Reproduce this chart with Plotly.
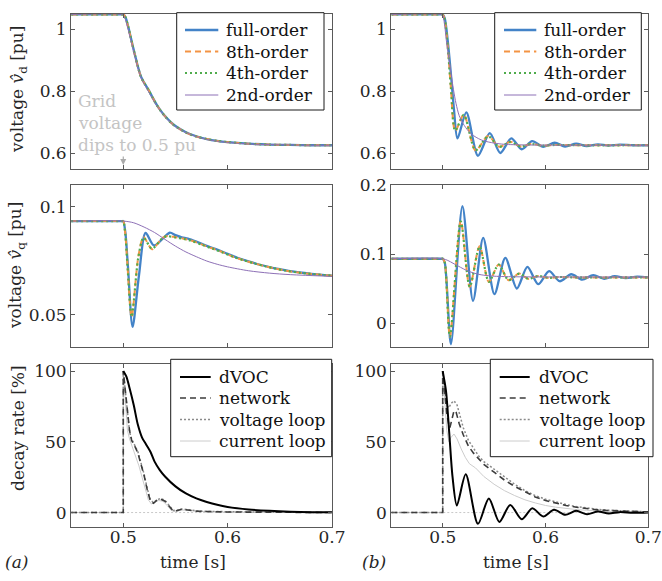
import plotly.graph_objects as go

# ---------------- data ----------------
# Row 1, panel (a): voltage v_d [pu]
t_vd_a = [0.45, 0.499, 0.5, 0.502, 0.505, 0.508, 0.511, 0.514, 0.517, 0.52, 0.524, 0.528, 0.532,
          0.536, 0.54, 0.545, 0.55, 0.56, 0.57, 0.58, 0.59, 0.6, 0.62, 0.64, 0.66, 0.68, 0.7]
full_vd_a = [1.048, 1.048, 1.048, 1.04, 1.005, 0.962, 0.92, 0.88, 0.847, 0.828, 0.806, 0.781, 0.757,
             0.737, 0.72, 0.702, 0.688, 0.668, 0.655, 0.646, 0.64, 0.636, 0.631, 0.628, 0.627, 0.626, 0.626]
o8_vd_a = [1.048, 1.048, 1.048, 1.039, 1.003, 0.96, 0.918, 0.878, 0.846, 0.827, 0.805, 0.78, 0.756,
           0.736, 0.719, 0.701, 0.687, 0.667, 0.654, 0.646, 0.64, 0.636, 0.631, 0.628, 0.627, 0.626, 0.626]
o4_vd_a = [1.048, 1.048, 1.048, 1.039, 1.004, 0.961, 0.919, 0.879, 0.846, 0.827, 0.805, 0.78, 0.756,
           0.736, 0.719, 0.701, 0.687, 0.667, 0.654, 0.646, 0.64, 0.636, 0.631, 0.628, 0.627, 0.626, 0.626]
o2_vd_a = [1.048, 1.048, 1.046, 1.032, 0.995, 0.955, 0.914, 0.876, 0.845, 0.824, 0.8, 0.777, 0.754,
           0.735, 0.718, 0.7, 0.686, 0.667, 0.654, 0.645, 0.639, 0.635, 0.63, 0.628, 0.627, 0.626, 0.626]

# Row 1, panel (b)
t_full_vd_b = [0.45, 0.499, 0.5, 0.502, 0.505, 0.508, 0.511, 0.5144, 0.523, 0.5343, 0.5458, 0.556,
               0.5667, 0.5769, 0.587, 0.5978, 0.609, 0.619, 0.6298, 0.64, 0.651, 0.661, 0.672, 0.685, 0.7]
full_vd_b = [1.048, 1.048, 1.048, 1.035, 0.96, 0.855, 0.74, 0.648, 0.732, 0.592, 0.665, 0.601,
             0.648, 0.613, 0.639, 0.621, 0.634, 0.622, 0.631, 0.623, 0.629, 0.625, 0.628, 0.626, 0.626]
t_red_vd_b = [0.45, 0.499, 0.5, 0.502, 0.505, 0.508, 0.5122, 0.5205, 0.532, 0.5442, 0.555, 0.5657,
              0.576, 0.586, 0.597, 0.61, 0.63, 0.7]
o8_vd_b = [1.048, 1.048, 1.048, 1.03, 0.94, 0.81, 0.672, 0.725, 0.609, 0.656, 0.621, 0.637,
           0.622, 0.63, 0.625, 0.627, 0.626, 0.626]
o4_vd_b = [1.048, 1.048, 1.048, 1.03, 0.94, 0.81, 0.673, 0.724, 0.61, 0.655, 0.621, 0.636,
           0.622, 0.63, 0.625, 0.627, 0.626, 0.626]
t_o2_vd_b = [0.45, 0.499, 0.5, 0.502, 0.5035, 0.506, 0.508, 0.5105, 0.513, 0.516, 0.52, 0.525, 0.53,
             0.535, 0.54, 0.55, 0.56, 0.58, 0.7]
o2_vd_b = [1.048, 1.048, 1.046, 1.01, 0.965, 0.905, 0.86, 0.805, 0.76, 0.722, 0.695, 0.672, 0.657,
           0.647, 0.64, 0.633, 0.629, 0.627, 0.626]

# Row 2, panel (a): voltage v_q [pu]
t_full_vq_a = [0.45, 0.499, 0.5, 0.502, 0.5045, 0.5089, 0.515, 0.5214, 0.5295, 0.5445, 0.55, 0.556,
               0.562, 0.57, 0.58, 0.59, 0.6, 0.61, 0.62, 0.63, 0.64, 0.65, 0.66, 0.68, 0.7]
full_vq_a = [0.0933, 0.0933, 0.0933, 0.088, 0.072, 0.0443, 0.068, 0.0878, 0.082, 0.0879, 0.0868, 0.0858,
             0.0852, 0.0838, 0.0818, 0.0801, 0.0781, 0.0762, 0.0746, 0.0732, 0.072, 0.071, 0.0701, 0.0689, 0.068]
t_red_vq_a = [0.45, 0.499, 0.5, 0.502, 0.504, 0.508, 0.5145, 0.5195, 0.5275, 0.5375, 0.5425, 0.55,
              0.558, 0.565, 0.575, 0.585, 0.595, 0.605, 0.615, 0.625, 0.635, 0.645, 0.655, 0.67, 0.7]
o8_vq_a = [0.0933, 0.0933, 0.0933, 0.087, 0.073, 0.0488, 0.077, 0.0858, 0.0803, 0.0855, 0.0864, 0.0858,
           0.0851, 0.0843, 0.0825, 0.0807, 0.0789, 0.0768, 0.0752, 0.0738, 0.0725, 0.0714, 0.0704, 0.0693, 0.068]
o4_vq_a = [0.0933, 0.0933, 0.0933, 0.087, 0.0728, 0.049, 0.0768, 0.0856, 0.0805, 0.0854, 0.0863, 0.0857,
           0.085, 0.0842, 0.0824, 0.0806, 0.0788, 0.0768, 0.0752, 0.0738, 0.0725, 0.0714, 0.0704, 0.0693, 0.068]
t_o2_vq_a = [0.45, 0.5, 0.51, 0.52, 0.53, 0.54, 0.55, 0.56, 0.57, 0.58, 0.59, 0.6, 0.62, 0.64, 0.66, 0.7]
o2_vq_a = [0.0933, 0.0933, 0.0925, 0.0905, 0.088, 0.0848, 0.0817, 0.079, 0.0768, 0.0748, 0.0733,
           0.0721, 0.0703, 0.0692, 0.0685, 0.0677]

# Row 2, panel (b)
t_full_vq_b = [0.45, 0.499, 0.5, 0.502, 0.508, 0.5192, 0.5295, 0.5394, 0.5503, 0.5609, 0.5721, 0.5824,
               0.5929, 0.6035, 0.6138, 0.625, 0.6356, 0.6465, 0.657, 0.6673, 0.678, 0.689, 0.7]
full_vq_b = [0.0935, 0.0935, 0.0935, 0.088, -0.03, 0.1693, 0.0327, 0.1236, 0.0423, 0.0947, 0.0505, 0.0817,
             0.0567, 0.0755, 0.061, 0.0711, 0.0634, 0.0697, 0.0645, 0.0683, 0.0655, 0.0675, 0.0665]
t_red_vq_b = [0.45, 0.499, 0.5, 0.502, 0.507, 0.5176, 0.5263, 0.5359, 0.5449, 0.5545, 0.5641, 0.5744,
              0.5833, 0.593, 0.603, 0.613, 0.63, 0.7]
o8_vq_b = [0.0935, 0.0935, 0.0935, 0.088, -0.0193, 0.148, 0.0529, 0.1115, 0.06, 0.0851, 0.0625, 0.0721,
           0.0644, 0.0687, 0.0658, 0.0672, 0.0665, 0.0665]
o4_vq_b = [0.0935, 0.0935, 0.0935, 0.088, -0.019, 0.1475, 0.053, 0.111, 0.0602, 0.085, 0.0626, 0.072,
           0.0645, 0.0686, 0.0659, 0.0671, 0.0665, 0.0665]
t_o2_vq_b = [0.45, 0.5, 0.505, 0.51, 0.515, 0.52, 0.525, 0.53, 0.535, 0.54, 0.55, 0.56, 0.58, 0.7]
o2_vq_b = [0.0935, 0.0935, 0.091, 0.087, 0.083, 0.079, 0.0755, 0.073, 0.071, 0.0697, 0.0683, 0.0677,
           0.0673, 0.067]

# Row 3: decay rate [%]
t_dvoc_a = [0.5, 0.503, 0.506, 0.51, 0.514, 0.518, 0.522, 0.526, 0.53, 0.535, 0.54, 0.55, 0.56, 0.57,
            0.58, 0.59, 0.6, 0.62, 0.64, 0.66, 0.68, 0.7]
dvoc_a = [100, 96, 88, 76, 62, 53, 48, 43, 36, 30, 25.5, 18.5, 13.5, 10, 7.5, 5.5, 4, 2.2, 1.2, 0.6, 0.3, 0.15]
t_net_a = [0.45, 0.5, 0.5, 0.502, 0.504, 0.506, 0.508, 0.511, 0.514, 0.517, 0.52, 0.523, 0.526, 0.529,
           0.532, 0.536, 0.54, 0.544, 0.548, 0.552, 0.556, 0.562, 0.57, 0.58, 0.6, 0.65, 0.7]
net_a = [0, 0, 100, 88, 72, 58, 51, 47, 42, 34, 26, 16, 8, 6.5, 8.5, 9.5, 8, 4.5, 1, 1.5, 2.3, 1.8,
         1, 0.7, 0.4, 0.2, 0.05]
volt_a = [0, 0, 100, 86, 70, 57, 52, 48, 43, 35, 27, 17, 9, 7, 9, 10, 8.5, 5, 1.5, 1.8, 2.5, 2,
          1.2, 0.8, 0.5, 0.2, 0.05]
t_cur_a = [0.45, 0.5, 0.5, 0.502, 0.504, 0.506, 0.509, 0.512, 0.515, 0.518, 0.521, 0.524, 0.527, 0.53,
           0.534, 0.538, 0.542, 0.546, 0.55, 0.555, 0.56, 0.57, 0.6, 0.7]
cur_a = [0, 0, 100, 75, 58, 52, 46, 40, 33, 25, 16, 9, 6, 7.5, 8.5, 8, 5, 1.5, 0.5, 1.8, 1.7, 0.9, 0.3, 0.05]

t_dvoc_b = [0.5, 0.5032, 0.5064, 0.5096, 0.5138, 0.5224, 0.5343, 0.5449, 0.5551, 0.5657, 0.5769, 0.5872,
            0.5978, 0.6083, 0.6192, 0.6298, 0.6404, 0.651, 0.6615, 0.672, 0.685, 0.7]
dvoc_b = [100, 86, 56, 25, 5, 27, -8, 10, -6.6, 5.4, -4.7, 3, -2.8, 1.9, -1.6, 1.2, -1.2, 0.7, -0.7,
          0.3, -0.2, 0]
t_net_b = [0.45, 0.5, 0.5, 0.502, 0.504, 0.506, 0.507, 0.509, 0.511, 0.513, 0.516, 0.52, 0.525, 0.53,
           0.535, 0.54, 0.55, 0.56, 0.57, 0.58, 0.59, 0.6, 0.61, 0.62, 0.63, 0.64, 0.65, 0.66, 0.68, 0.7]
net_b = [0, 0, 100, 85, 70, 62, 60, 66, 72, 71, 63, 55, 47, 42, 38, 34, 28.5, 23, 18.5, 14.5, 11, 8.5,
         6.5, 5, 3.8, 2.8, 2, 1.5, 0.8, 0.4]
t_volt_b = [0.45, 0.5, 0.5, 0.502, 0.504, 0.506, 0.508, 0.511, 0.514, 0.517, 0.52, 0.525, 0.53, 0.535,
            0.54, 0.55, 0.56, 0.57, 0.58, 0.59, 0.6, 0.61, 0.62, 0.63, 0.64, 0.65, 0.66, 0.68, 0.7]
volt_b = [0, 0, 100, 88, 76, 74, 77, 79, 76, 68, 60, 51, 45, 40, 36, 30.5, 25, 20, 15.5, 12, 9.5,
          7.3, 5.6, 4.2, 3.1, 2.3, 1.7, 0.9, 0.5]
t_cur_b = [0.45, 0.5, 0.5, 0.502, 0.504, 0.506, 0.508, 0.511, 0.514, 0.518, 0.522, 0.526, 0.529, 0.532,
           0.536, 0.54, 0.55, 0.56, 0.57, 0.58, 0.59, 0.6, 0.61, 0.62, 0.63, 0.64, 0.66, 0.7]
cur_b = [0, 0, 100, 80, 58, 50, 53, 55.5, 52, 45, 39, 34.5, 33, 31.5, 28.5, 25.5, 20, 15.5, 12, 9,
         6.8, 5, 3.8, 2.8, 2.1, 1.6, 0.9, 0.3]

x_ticks = [0.5, 0.6, 0.7]
x_ticktext = ["0.5", "0.6", "0.7"]
vd_ticks = [0.6, 0.8, 1.0]
vd_ticktext = ["0.6", "0.8", "1"]
vq_a_ticks = [0.05, 0.1]
vq_a_ticktext = ["0.05", "0.1"]
vq_b_ticks = [0, 0.1, 0.2]
vq_b_ticktext = ["0", "0.1", "0.2"]
dr_ticks = [0, 50, 100]
dr_ticktext = ["0", "50", "100"]

order_names = ["full-order", "8th-order", "4th-order", "2nd-order"]
decay_names = ["dVOC", "network", "voltage loop", "current loop"]

# ---------------- styling ----------------
W, H = 662, 581
FONT = "DejaVu Serif"
FS = 17
AXC = "#595959"
TXT = "#262626"
BLUE = "#4383c8"
ORANGE = "#f39444"
GREEN = "#4fac4c"
PURPLE = "#8d70b6"

order_styles = [dict(color=BLUE, width=2.3, dash="solid"),
                dict(color=ORANGE, width=2, dash="6px,4px"),
                dict(color=GREEN, width=2.2, dash="2px,3px"),
                dict(color=PURPLE, width=1, dash="solid")]
decay_styles = [dict(color="#000000", width=2, dash="solid"),
                dict(color="#3c3c3c", width=1.6, dash="6px,4px"),
                dict(color="#8a8a8a", width=1.5, dash="2px,2px"),
                dict(color="#cccccc", width=1, dash="solid")]


def px2x(px):
    return px / W


def py2y(py):
    return 1 - py / H


fig = go.Figure()


def add(t, v, style, xa, ya, name, shape="spline"):
    line = dict(color=style["color"], width=style["width"], dash=style["dash"], shape=shape)
    if shape == "spline":
        line["smoothing"] = 0.8
    fig.add_trace(go.Scatter(x=t, y=v, mode="lines", name=name, showlegend=False, line=line,
                             xaxis=xa, yaxis=ya, hoverinfo="skip"))


# row 1
add(t_vd_a, full_vd_a, order_styles[0], "x", "y", order_names[0])
add(t_vd_a, o8_vd_a, order_styles[1], "x", "y", order_names[1])
add(t_vd_a, o4_vd_a, order_styles[2], "x", "y", order_names[2])
add(t_vd_a, o2_vd_a, order_styles[3], "x", "y", order_names[3])
add(t_full_vd_b, full_vd_b, order_styles[0], "x2", "y2", order_names[0])
add(t_red_vd_b, o8_vd_b, order_styles[1], "x2", "y2", order_names[1])
add(t_red_vd_b, o4_vd_b, order_styles[2], "x2", "y2", order_names[2])
add(t_o2_vd_b, o2_vd_b, order_styles[3], "x2", "y2", order_names[3])
# row 2
add(t_full_vq_a, full_vq_a, order_styles[0], "x3", "y3", order_names[0])
add(t_red_vq_a, o8_vq_a, order_styles[1], "x3", "y3", order_names[1])
add(t_red_vq_a, o4_vq_a, order_styles[2], "x3", "y3", order_names[2])
add(t_o2_vq_a, o2_vq_a, order_styles[3], "x3", "y3", order_names[3])
add(t_full_vq_b, full_vq_b, order_styles[0], "x4", "y4", order_names[0])
add(t_red_vq_b, o8_vq_b, order_styles[1], "x4", "y4", order_names[1])
add(t_red_vq_b, o4_vq_b, order_styles[2], "x4", "y4", order_names[2])
add(t_o2_vq_b, o2_vq_b, order_styles[3], "x4", "y4", order_names[3])
# row 3
add(t_cur_a, cur_a, decay_styles[3], "x5", "y5", decay_names[3], "linear")
add(t_net_a, volt_a, decay_styles[2], "x5", "y5", decay_names[2], "linear")
add(t_net_a, net_a, decay_styles[1], "x5", "y5", decay_names[1], "linear")
add(t_dvoc_a, dvoc_a, decay_styles[0], "x5", "y5", decay_names[0])
add(t_cur_b, cur_b, decay_styles[3], "x6", "y6", decay_names[3], "linear")
add(t_volt_b, volt_b, decay_styles[2], "x6", "y6", decay_names[2], "linear")
add(t_net_b, net_b, decay_styles[1], "x6", "y6", decay_names[1], "linear")
add(t_dvoc_b, dvoc_b, decay_styles[0], "x6", "y6", decay_names[0])

LX = [71.1 / W, 332 / W]
RX = [391.3 / W, 648.3 / W]
R1 = [py2y(168.8), py2y(13.8)]
R2 = [py2y(347), py2y(185)]
R3 = [py2y(526.7), py2y(364)]


def xax(domain, anchor, labels):
    return dict(domain=domain, anchor=anchor, range=[0.45, 0.7], tickvals=x_ticks, ticktext=x_ticktext,
                showticklabels=labels, showline=True, mirror="ticks", linecolor=AXC, linewidth=1,
                ticks="inside", ticklen=4, tickcolor=AXC, showgrid=False, zeroline=False,
                ticklabelstandoff=-5, automargin=False, ticklabeloverflow="allow",
                tickfont=dict(family=FONT, size=FS, color=TXT))


def yax(domain, anchor, rng, tv, tt):
    return dict(domain=domain, anchor=anchor, range=rng, tickvals=tv, ticktext=tt,
                showline=True, mirror="ticks", linecolor=AXC, linewidth=1,
                ticks="inside", ticklen=4, tickcolor=AXC, showgrid=False, zeroline=False,
                automargin=False, ticklabeloverflow="allow",
                tickfont=dict(family=FONT, size=FS, color=TXT))


fig.update_layout(
    width=W, height=H, autosize=False,
    margin=dict(l=0, r=0, t=0, b=0, pad=0),
    paper_bgcolor="white", plot_bgcolor="white",
    font=dict(family=FONT, size=FS, color=TXT),
    showlegend=False,
    xaxis=xax(LX, "y", False), yaxis=yax(R1, "x", [0.55, 1.05], vd_ticks, vd_ticktext),
    xaxis2=xax(RX, "y2", False), yaxis2=yax(R1, "x2", [0.55, 1.05], vd_ticks, vd_ticktext),
    xaxis3=xax(LX, "y3", False), yaxis3=yax(R2, "x3", [0.035, 0.11], vq_a_ticks, vq_a_ticktext),
    xaxis4=xax(RX, "y4", False), yaxis4=yax(R2, "x4", [-0.034, 0.2], vq_b_ticks, vq_b_ticktext),
    xaxis5=xax(LX, "y5", True), yaxis5=yax(R3, "x5", [-10, 105], dr_ticks, dr_ticktext),
    xaxis6=xax(RX, "y6", True), yaxis6=yax(R3, "x6", [-10, 105], dr_ticks, dr_ticktext),
)

shapes = []
annots = []

# zero reference lines in decay-rate panels
for xr, yr in (("x5", "y5"), ("x6", "y6")):
    shapes.append(dict(type="line", xref=xr, yref=yr, x0=0.45, x1=0.7, y0=0, y1=0, layer="below",
                       line=dict(color="#c8c8c8", width=1, dash="2px,2px")))


def legend_box(x0, x1, y0, y1, line_x0, line_x1, text_x, ys, names, styles):
    shapes.append(dict(type="rect", xref="paper", yref="paper", x0=px2x(x0), x1=px2x(x1),
                       y0=py2y(y1), y1=py2y(y0), fillcolor="white",
                       line=dict(color="#1a1a1a", width=1)))
    for yy, nm, st in zip(ys, names, styles):
        shapes.append(dict(type="line", xref="paper", yref="paper", x0=px2x(line_x0), x1=px2x(line_x1),
                           y0=py2y(yy), y1=py2y(yy),
                           line=dict(color=st["color"], width=st["width"], dash=st["dash"])))
        annots.append(dict(xref="paper", yref="paper", x=px2x(text_x), y=py2y(yy), text=nm,
                           showarrow=False, xanchor="left", yanchor="middle",
                           font=dict(family=FONT, size=FS, color="#111111")))


legend_box(176.7, 324, 12.7, 110, 185, 218.3, 224, [30, 51.5, 73, 95], order_names, order_styles)
legend_box(494.7, 641.3, 12.7, 110, 504, 536.3, 542, [30, 51.5, 73, 95], order_names, order_styles)
legend_box(170.7, 331.7, 359.3, 456.7, 180, 210.7, 217, [377, 398, 419.5, 441], decay_names, decay_styles)
legend_box(490.3, 653, 359.3, 456.7, 499.7, 529.7, 537, [377, 398, 419.5, 441], decay_names, decay_styles)

# grid voltage note
GREY = "#c4c4c4"
for txt, yy in (("Grid", 101), ("voltage", 123), ("dips to 0.5 pu", 145)):
    annots.append(dict(xref="paper", yref="paper", x=px2x(76), y=py2y(yy), text=txt, showarrow=False,
                       xanchor="left", yanchor="middle", font=dict(family=FONT, size=FS, color=GREY)))
annots.append(dict(xref="x", yref="y", x=0.5, y=0.5625, text="", showarrow=True, ax=0, ay=-10,
                   arrowhead=2, arrowsize=1, arrowwidth=1.2, arrowcolor="#aaaaaa"))

# axis titles
for txt, xx, yy in (("voltage <i>v̂</i><sub>d</sub> [pu]", 19, 90),
                    ("voltage <i>v̂</i><sub>q</sub> [pu]", 17, 266),
                    ("decay rate [%]", 18, 428)):
    annots.append(dict(xref="paper", yref="paper", x=px2x(xx), y=py2y(yy), text=txt, showarrow=False,
                       textangle=-90, xanchor="center", yanchor="middle",
                       font=dict(family=FONT, size=FS, color=TXT)))
for xx in (193, 516):
    annots.append(dict(xref="paper", yref="paper", x=px2x(xx), y=py2y(562), text="time [s]",
                       showarrow=False, xanchor="center", yanchor="middle",
                       font=dict(family=FONT, size=FS, color=TXT)))
annots.append(dict(xref="paper", yref="paper", x=px2x(16), y=py2y(562), text="<i>(a)</i>", showarrow=False,
                   xanchor="center", yanchor="middle", font=dict(family=FONT, size=FS, color=TXT)))
annots.append(dict(xref="paper", yref="paper", x=px2x(374), y=py2y(562), text="<i>(b)</i>", showarrow=False,
                   xanchor="center", yanchor="middle", font=dict(family=FONT, size=FS, color=TXT)))

fig.update_layout(shapes=shapes, annotations=annots)
fig.write_html("out.html", config={"displayModeBar": False},
               post_script="document.body.style.margin='0';document.body.style.overflow='hidden';")
